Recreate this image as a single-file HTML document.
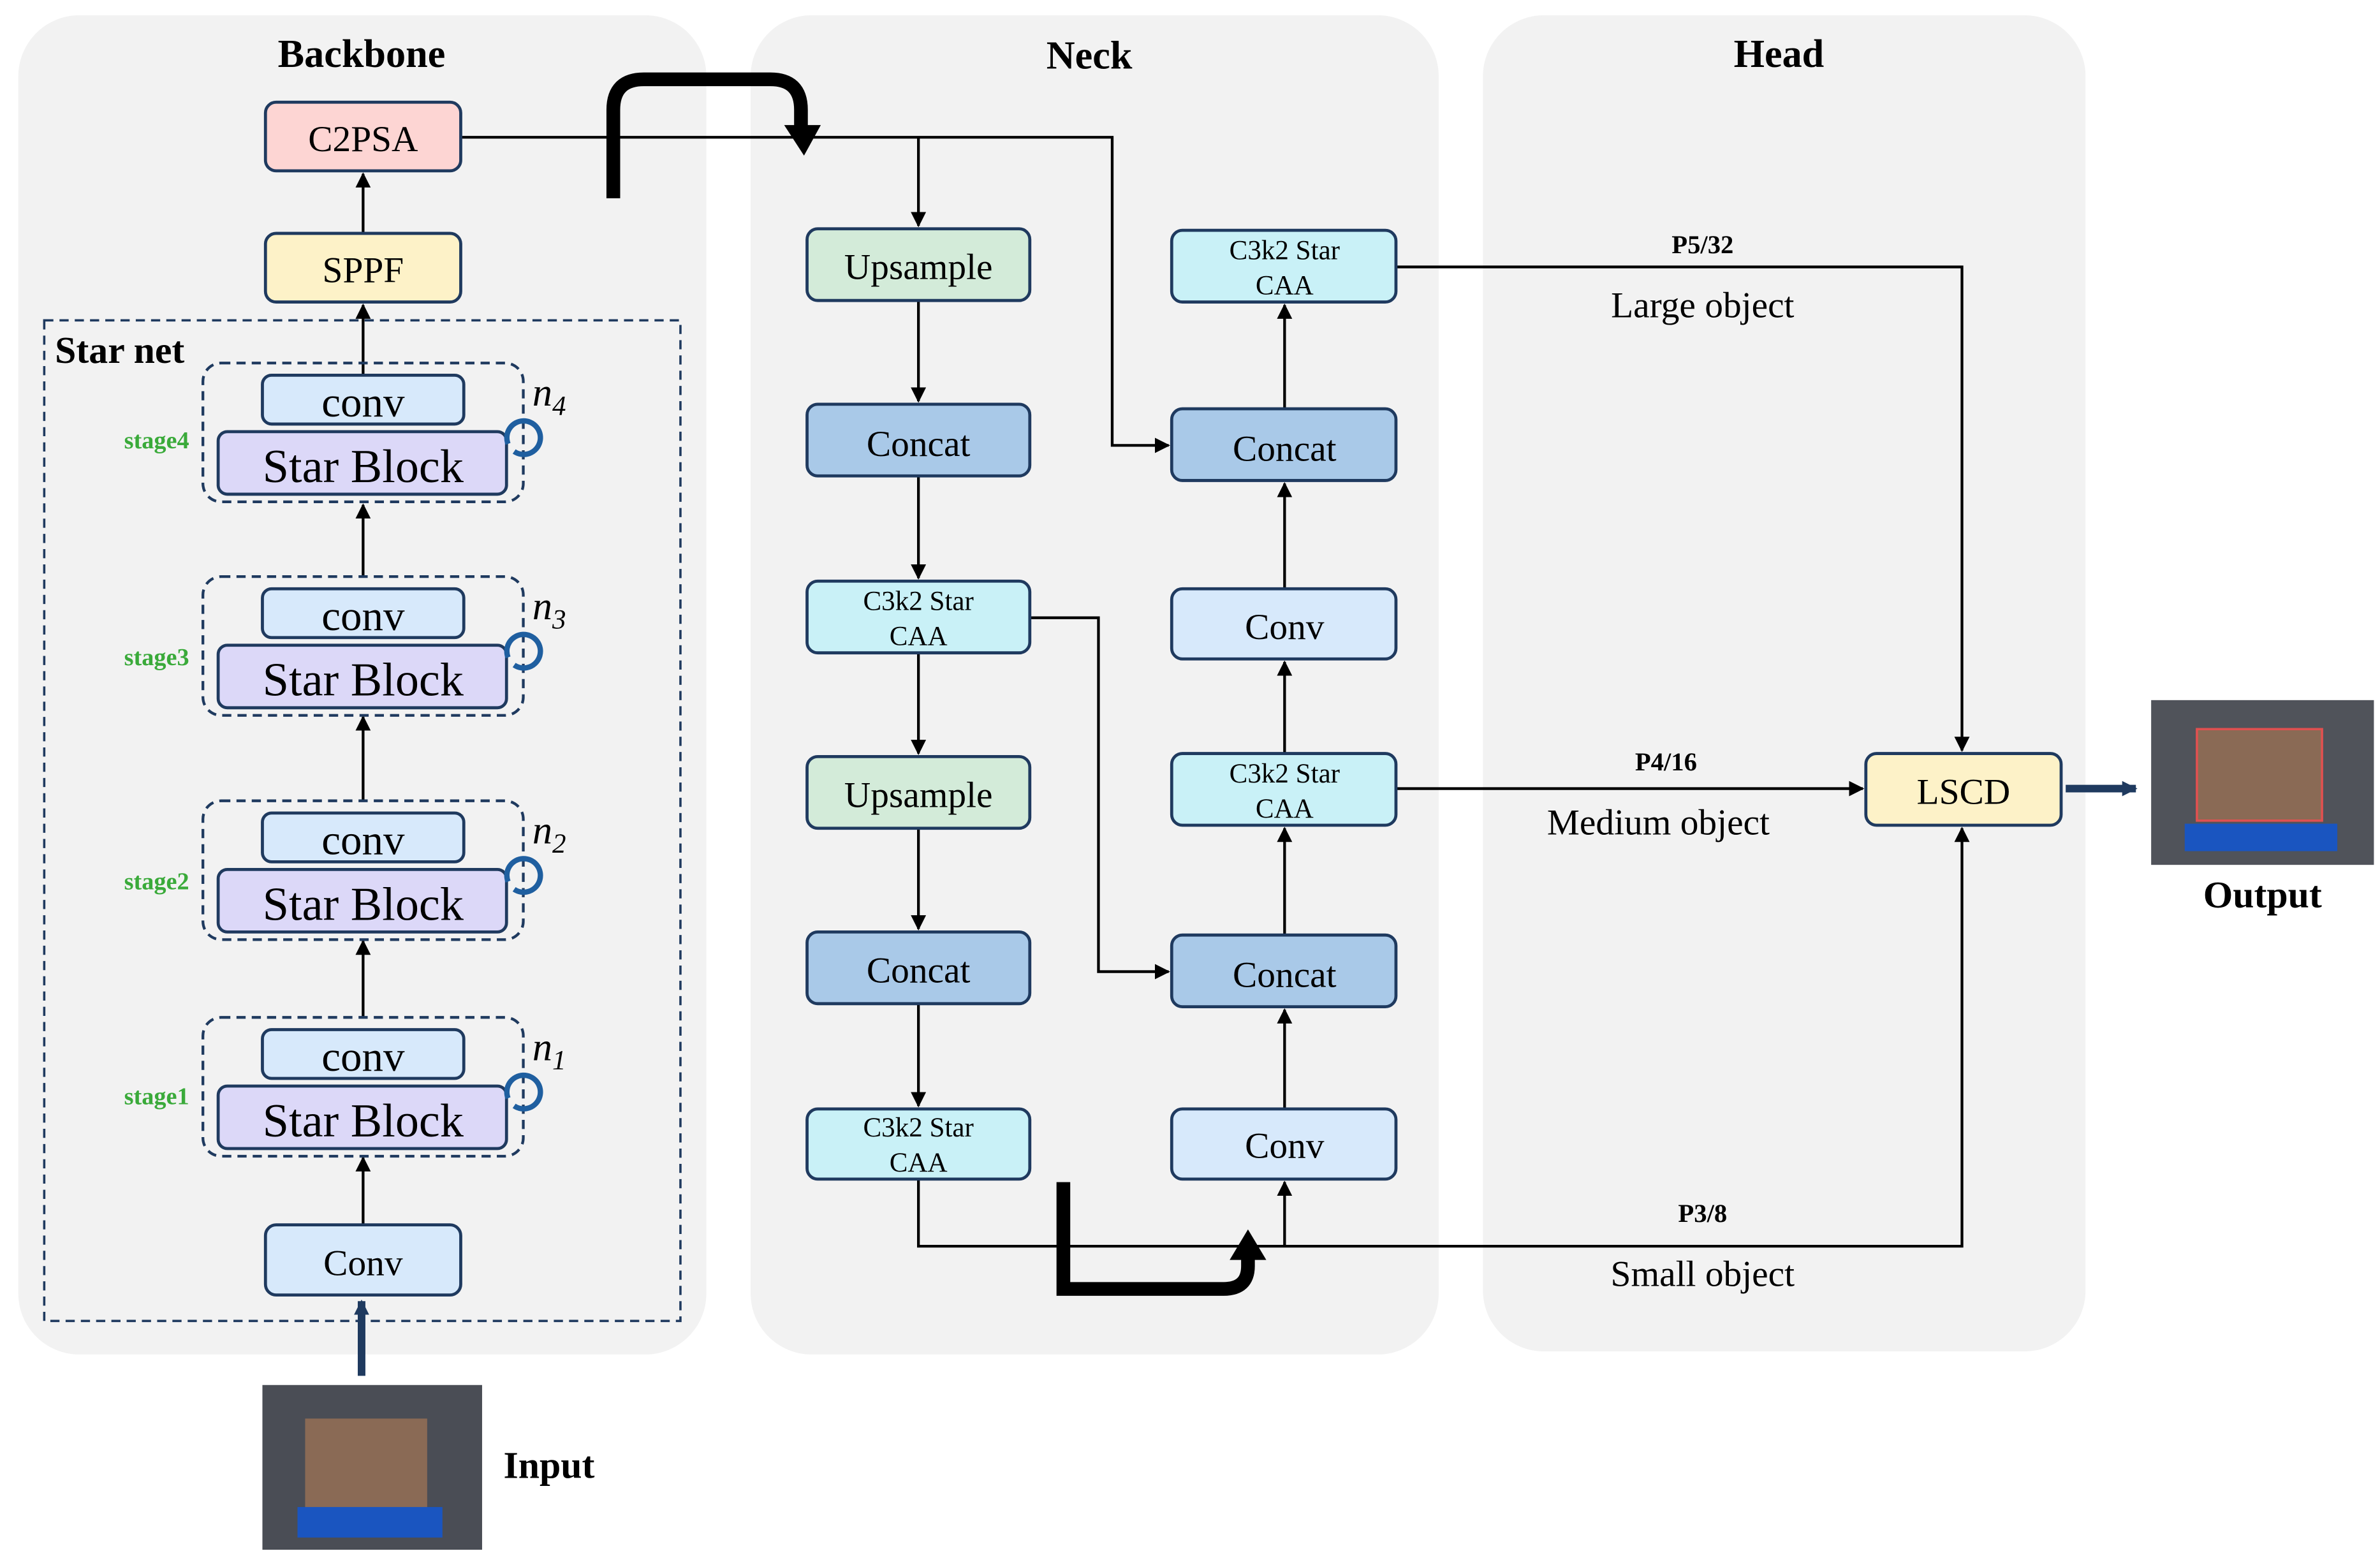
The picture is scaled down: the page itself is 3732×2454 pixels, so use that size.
<!DOCTYPE html>
<html><head><style>html,body{margin:0;padding:0;background:#fff}svg{display:block}svg text{font-family:"Liberation Serif",serif}</style></head><body>
<svg width="3732" height="2454" viewBox="0 0 1560 1026" preserveAspectRatio="none" xmlns="http://www.w3.org/2000/svg" style="font-family:'Liberation Serif',serif">
<defs>
<marker id="a" markerWidth="10" markerHeight="10" refX="9" refY="5" orient="auto" markerUnits="userSpaceOnUse"><path d="M0,0 L10,5 L0,10z" fill="#000"/></marker>
<marker id="n" markerWidth="10" markerHeight="10" refX="9" refY="5" orient="auto" markerUnits="userSpaceOnUse"><path d="M0,0 L10,5 L0,10z" fill="#1f3a5f"/></marker>
</defs>
<rect x="12" y="10" width="451" height="878" rx="40" fill="#f2f2f2"/>
<rect x="492" y="10" width="451" height="878" rx="40" fill="#f2f2f2"/>
<rect x="972" y="10" width="395" height="876" rx="40" fill="#f2f2f2"/>
<g font-weight="bold" font-size="26" text-anchor="middle">
<text x="237" y="44">Backbone</text><text x="714" y="45">Neck</text><text x="1166" y="44">Head</text>
</g>
<rect x="29" y="210" width="417" height="656" fill="none" stroke="#1f3a5f" stroke-width="1.5" stroke-dasharray="6,4"/>
<text x="36" y="238" font-size="25" font-weight="bold">Star net</text>
<g stroke="#000" stroke-width="1.8" fill="none" marker-end="url(#a)">
<line x1="238" y1="153" x2="238" y2="114"/>
<line x1="238" y1="246" x2="238" y2="200"/>
<line x1="238" y1="378" x2="238" y2="331"/>
<line x1="238" y1="525" x2="238" y2="470"/>
<line x1="238" y1="667" x2="238" y2="617"/>
<line x1="238" y1="803" x2="238" y2="759"/>
<polyline points="302,90 729,90 729,292 766,292"/>
<line x1="602" y1="90" x2="602" y2="148"/>
<line x1="602" y1="197" x2="602" y2="263"/>
<line x1="602" y1="312" x2="602" y2="379"/>
<line x1="602" y1="428" x2="602" y2="494"/>
<line x1="602" y1="543" x2="602" y2="609"/>
<line x1="602" y1="658" x2="602" y2="725"/>
<polyline points="675,405 720,405 720,637 766,637"/>
<polyline points="602,773 602,817 1286,817 1286,543"/>
<line x1="842" y1="817" x2="842" y2="775"/>
<line x1="842" y1="727" x2="842" y2="662"/>
<line x1="842" y1="613" x2="842" y2="543"/>
<line x1="842" y1="494" x2="842" y2="434"/>
<line x1="842" y1="386" x2="842" y2="317"/>
<line x1="842" y1="268" x2="842" y2="200"/>
<polyline points="915,175 1286,175 1286,492"/>
<line x1="915" y1="517" x2="1221" y2="517"/>
</g>
<path d="M402,130 V72 Q402 52 422 52 H505 Q525 52 525 72 V85" fill="none" stroke="#000" stroke-width="9"/>
<path d="M514,82 L538,82 L527,102z" fill="#000"/>
<path d="M697,775 V845 H802 Q818 845 818 830 V822" fill="none" stroke="#000" stroke-width="9"/>
<path d="M806,826 L830,826 L818,806z" fill="#000"/>
<line x1="237" y1="902" x2="237" y2="853" stroke="#1f3a5f" stroke-width="5" marker-end="url(#n)"/>
<line x1="1354" y1="517" x2="1400" y2="517" stroke="#1f3a5f" stroke-width="5" marker-end="url(#n)"/>
<g stroke="#1f3a5f" stroke-width="2">
<rect x="174" y="67" width="128" height="45" rx="7" fill="#fdd5d3"/>
<rect x="174" y="153" width="128" height="45" rx="7" fill="#fdf2c8"/>
<rect x="174" y="803" width="128" height="46" rx="7" fill="#d7e9fb"/>
<g fill="#a9c9e8">
<rect x="529" y="265" width="146" height="47" rx="7"/><rect x="529" y="611" width="146" height="47" rx="7"/>
<rect x="768" y="268" width="147" height="47" rx="7"/><rect x="768" y="613" width="147" height="47" rx="7"/>
</g>
<g fill="#d3ebd9"><rect x="529" y="150" width="146" height="47" rx="7"/><rect x="529" y="496" width="146" height="47" rx="7"/></g>
<g fill="#c9f1f7"><rect x="529" y="381" width="146" height="47" rx="7"/><rect x="529" y="727" width="146" height="46" rx="7"/>
<rect x="768" y="151" width="147" height="47" rx="7"/><rect x="768" y="494" width="147" height="47" rx="7"/></g>
<g fill="#d7e9fb"><rect x="768" y="386" width="147" height="46" rx="7"/><rect x="768" y="727" width="147" height="46" rx="7"/></g>
<rect x="1223" y="494" width="128" height="47" rx="7" fill="#fdf2c8"/>
</g>
<g id="st">
<rect x="133" y="238" width="210" height="91" rx="12" fill="none" stroke="#1f3a5f" stroke-width="1.8" stroke-dasharray="6,4"/>
<rect x="172" y="246" width="132" height="32" rx="6" fill="#d7e9fb" stroke="#1f3a5f" stroke-width="2"/>
<rect x="143" y="283" width="189" height="41" rx="6" fill="#dcd8f8" stroke="#1f3a5f" stroke-width="2"/>
<path d="M333,291 A11 11 0 1 1 337,296" fill="none" stroke="#1f5fa0" stroke-width="3.5"/>
<text x="238" y="273" font-size="28" text-anchor="middle">conv</text>
<text x="238" y="316" font-size="31" text-anchor="middle">Star Block</text>
</g>
<use href="#st" transform="translate(0,140)"/>
<use href="#st" transform="translate(0,287)"/>
<use href="#st" transform="translate(0,429)"/>
<g font-size="26" font-style="italic"><text x="349" y="266">n<tspan font-size="18" dy="6">4</tspan></text>
<text x="349" y="406">n<tspan font-size="18" dy="6">3</tspan></text>
<text x="349" y="553">n<tspan font-size="18" dy="6">2</tspan></text>
<text x="349" y="695">n<tspan font-size="18" dy="6">1</tspan></text></g>
<g font-size="16" font-weight="bold" fill="#3aaa3a" text-anchor="end">
<text x="124" y="294">stage4</text><text x="124" y="436">stage3</text><text x="124" y="583">stage2</text><text x="124" y="724">stage1</text></g>
<g font-size="24" text-anchor="middle">
<text x="238" y="99">C2PSA</text><text x="238" y="185">SPPF</text><text x="238" y="836">Conv</text>
<text x="602" y="183">Upsample</text><text x="602" y="299">Concat</text><text x="602" y="529">Upsample</text><text x="602" y="644">Concat</text>
<text x="842" y="302">Concat</text><text x="842" y="419">Conv</text><text x="842" y="647">Concat</text><text x="842" y="759">Conv</text>
<text x="1287" y="527">LSCD</text>
<text x="1116" y="208">Large object</text><text x="1087" y="547">Medium object</text><text x="1116" y="843">Small object</text>
</g>
<g font-size="18" text-anchor="middle">
<text x="602" y="400">C3k2 Star</text><text x="602" y="423">CAA</text>
<text x="602" y="745">C3k2 Star</text><text x="602" y="768">CAA</text>
<text x="842" y="170">C3k2 Star</text><text x="842" y="193">CAA</text>
<text x="842" y="513">C3k2 Star</text><text x="842" y="536">CAA</text>
</g>
<g font-size="17" font-weight="bold" text-anchor="middle"><text x="1116" y="166">P5/32</text><text x="1092" y="505">P4/16</text><text x="1116" y="801">P3/8</text></g>
<g font-size="25" font-weight="bold"><text x="330" y="969">Input</text><text x="1483" y="595" text-anchor="middle">Output</text></g>
<g>
<rect x="172" y="908" width="144" height="108" fill="#4a4d55"/>
<rect x="200" y="930" width="80" height="60" fill="#8a6a55"/>
<rect x="195" y="988" width="95" height="20" fill="#1a55c0"/>
<rect x="1410" y="459" width="146" height="108" fill="#50535a"/>
<rect x="1440" y="478" width="82" height="60" fill="#8a6a55" stroke="#e05050" stroke-width="1.5"/>
<rect x="1432" y="540" width="100" height="18" fill="#1a55c0"/>
</g>
</svg>
</body></html>
